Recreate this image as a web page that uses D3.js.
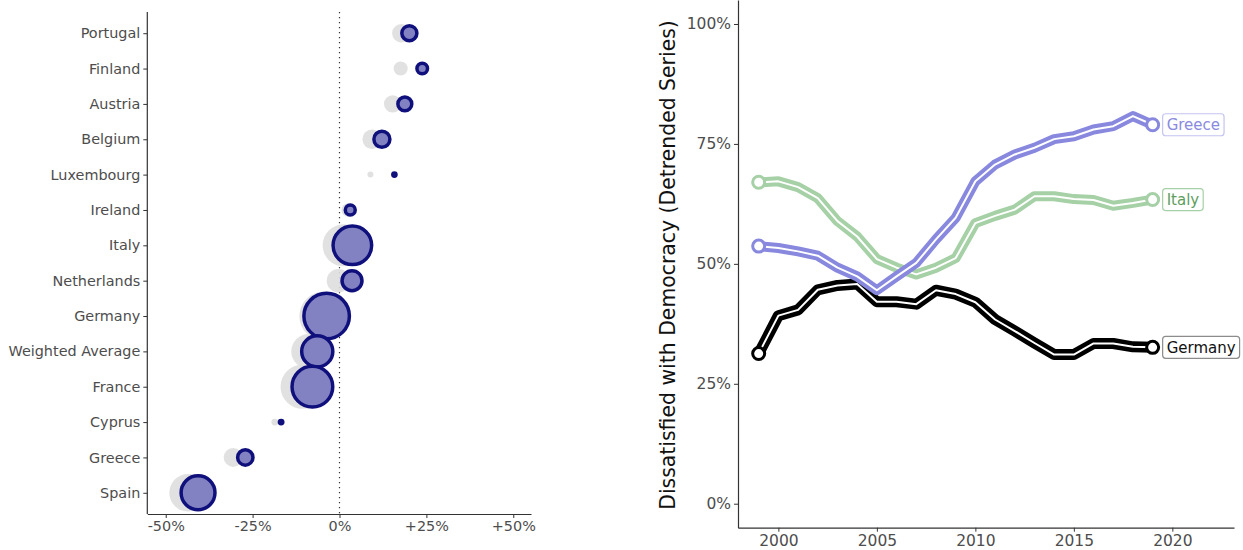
<!DOCTYPE html>
<html><head><meta charset="utf-8">
<script src="https://cdn.jsdelivr.net/npm/d3@7"></script>
<style>
body{margin:0;background:#fff}
svg{display:block}
text{font-family:"DejaVu Sans",sans-serif}
</style>
</head><body>
<svg id="chart" width="1243" height="550"></svg>
<script>
// ---------- Left panel data ----------
const countries = ["Portugal","Finland","Austria","Belgium","Luxembourg","Ireland","Italy","Netherlands","Germany","Weighted Average","France","Cyprus","Greece","Spain"];
const currentValues  = [20.1, 23.8, 18.8, 12.2, 15.8, 3.1, 3.7, 3.6, -3.7, -6.4, -7.8, -16.8, -27.1, -40.7];
const previousValues = [17.8, 17.6, 15.3, 9.4, 8.9, 2.5, 1.2, -0.3, -4.5, -8.9, -10.6, -18.6, -30.6, -43.6];
const populations    = [10.3, 5.5, 8.9, 11.5, 0.6, 4.9, 60.4, 17.3, 83, 40, 67, 0.9, 10.7, 47];
const leftTickValues = [-50, -25, 0, 25, 50];
const leftTickLabels = ["-50%", "-25%", "0%", "+25%", "+50%"];

// ---------- Right panel data ----------
const years   = [1999,2000,2001,2002,2003,2004,2005,2006,2007,2008,2009,2010,2011,2012,2013,2014,2015,2016,2017,2018,2019];
const germany = [31.3, 39.2, 40.4, 44.6, 45.5, 45.8, 42.1, 42.1, 41.6, 44.5, 43.7, 42.0, 38.4, 36.0, 33.5, 31.1, 31.1, 33.4, 33.4, 32.7, 32.6];
const italy   = [67.0, 67.2, 66.0, 63.7, 58.9, 55.7, 51.0, 49.2, 47.8, 49.2, 51.2, 58.5, 60.0, 61.3, 64.1, 64.1, 63.5, 63.3, 62.1, 62.7, 63.4];
const greece  = [53.7, 53.3, 52.6, 51.7, 49.2, 47.4, 44.5, 47.4, 50.2, 55.1, 59.6, 67.2, 70.7, 72.8, 74.2, 76.0, 76.6, 78.0, 78.7, 80.8, 79.0];
const seriesNames = ["Germany", "Italy", "Greece"];
const rightYTicks = [0, 25, 50, 75, 100];
const rightXTicks = [2000, 2005, 2010, 2015, 2020];
const yTitle = "Dissatisfied with Democracy (Detrended Series)";

const svg = d3.select("#chart");

// ================= LEFT PANEL =================
const xL = d3.scaleLinear().domain([-55.3, 55.1]).range([147.3, 531]);
const yL = d3.scalePoint().domain(countries).range([12, 514]).padding(0.6);
const rL = d3.scalePow().exponent(0.5).domain([0.6, 83]).range([3, 24.5]);

const left = svg.append("g");
const leftData = countries.map((c, i) => ({c, cur: currentValues[i], prev: previousValues[i], pop: populations[i]}));

left.append("line")
  .attr("x1", xL(0)).attr("x2", xL(0))
  .attr("y1", 12).attr("y2", 514)
  .attr("stroke", "#333").attr("stroke-width", 1.2)
  .attr("stroke-dasharray", "1.3,3.7");

left.selectAll("circle.prev").data(leftData).join("circle")
  .attr("class", "prev")
  .attr("cx", d => xL(d.prev)).attr("cy", d => yL(d.c))
  .attr("r", d => rL(d.pop))
  .attr("fill", "#dedede").attr("fill-opacity", 0.9);

left.selectAll("circle.cur").data(leftData).join("circle")
  .attr("class", "cur")
  .attr("cx", d => xL(d.cur)).attr("cy", d => yL(d.c))
  .attr("r", d => Math.max(rL(d.pop) - 1.75, 1.6))
  .attr("fill", "#8282c2")
  .attr("stroke", "#10107c").attr("stroke-width", 3.5);

const axL = left.append("g").attr("transform", `translate(${xL.range()[0]},0)`)
  .call(d3.axisLeft(yL).tickSize(4).tickSizeOuter(0).tickPadding(3));
const axB = left.append("g").attr("transform", `translate(0,514)`)
  .call(d3.axisBottom(xL).tickValues(leftTickValues).tickFormat((d, i) => leftTickLabels[i]).tickSize(4).tickSizeOuter(0).tickPadding(3));
[axL, axB].forEach(a => {
  a.select(".domain").attr("stroke", "#333").attr("stroke-width", 1.2);
  a.selectAll(".tick line").attr("stroke", "#333").attr("stroke-width", 1);
  a.selectAll(".tick text").attr("fill", "#4d4d4d").style("font-size", "14.4px").style("font-family", "DejaVu Sans");
});
axL.select(".domain").attr("d", `M0,12V514`);

// ================= RIGHT PANEL =================
const xR = d3.scaleLinear().domain([1997.95, 2023.13]).range([738, 1234]);
const yR = d3.scaleLinear().domain([-5, 105]).range([527.7, 0]);
const right = svg.append("g");

const axRL = right.append("g").attr("transform", `translate(738,0)`)
  .call(d3.axisLeft(yR).tickValues(rightYTicks).tickFormat(d => d + "%").tickSize(4).tickSizeOuter(0).tickPadding(3));
const axRB = right.append("g").attr("transform", `translate(0,527.7)`)
  .call(d3.axisBottom(xR).tickValues(rightXTicks).tickFormat(d3.format("d")).tickSize(4).tickSizeOuter(0).tickPadding(3));
[axRL, axRB].forEach(a => {
  a.select(".domain").attr("stroke", "#333").attr("stroke-width", 1.2);
  a.selectAll(".tick line").attr("stroke", "#333").attr("stroke-width", 1);
  a.selectAll(".tick text").attr("fill", "#4d4d4d").style("font-size", "15.5px").style("font-family", "DejaVu Sans");
});

right.append("text")
  .attr("transform", `translate(675,265) rotate(-90)`)
  .attr("text-anchor", "middle")
  .style("font-size", "20.4px")
  .attr("fill", "#111")
  .text(yTitle);

const seriesData = {Germany: germany, Italy: italy, Greece: greece};
const styles = {
  Germany: {line: "#000000", w: 11, text: "#111111", box: "#8c8c8c"},
  Italy:   {line: "#a6d0a6", w: 10, text: "#5e9e5e", box: "#a6d0a6"},
  Greece:  {line: "#8888df", w: 10, text: "#8a8ae0", box: "#c4c4f2"}
};
const line = d3.line().x(d => xR(d[0])).y(d => yR(d[1]));

seriesNames.forEach(name => {
  const vals = seriesData[name];
  const pts = years.map((y, i) => [y, vals[i]]);
  const st = styles[name];
  const g = right.append("g");
  g.append("path").attr("d", line(pts)).attr("fill", "none")
    .attr("stroke", st.line).attr("stroke-width", st.w).attr("stroke-linejoin", "round").attr("stroke-linecap", "round");
  g.append("path").attr("d", line(pts)).attr("fill", "none")
    .attr("stroke", "#fff").attr("stroke-width", 2).attr("stroke-linejoin", "round");
  [pts[0], pts[pts.length - 1]].forEach(p => {
    g.append("circle").attr("cx", xR(p[0])).attr("cy", yR(p[1])).attr("r", 6)
      .attr("fill", "#fff").attr("stroke", st.line).attr("stroke-width", 3);
  });
});

seriesNames.forEach(name => {
  const vals = seriesData[name];
  const st = styles[name];
  const lx = xR(years[years.length - 1]) + 10;
  const ly = yR(vals[vals.length - 1]);
  const g = right.append("g");
  const rect = g.append("rect");
  const t = g.append("text").attr("x", lx + 4).attr("y", ly).attr("dy", "0.36em")
    .style("font-size", "15px").attr("fill", st.text).text(name);
  const w = t.node().getComputedTextLength();
  rect.attr("x", lx).attr("y", ly - 11).attr("width", w + 8).attr("height", 22)
    .attr("rx", 3).attr("fill", "#fff").attr("stroke", st.box).attr("stroke-width", 1.2);
});
</script>
</body></html>
